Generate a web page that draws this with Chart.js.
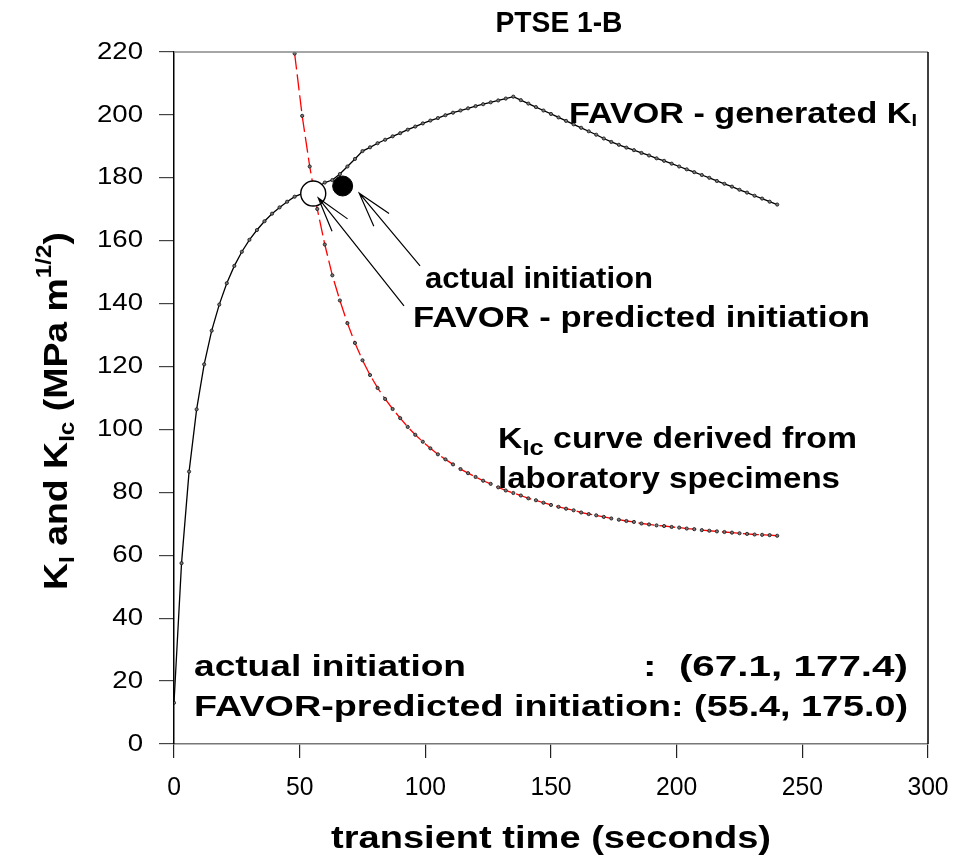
<!DOCTYPE html>
<html>
<head>
<meta charset="utf-8">
<script src="https://cdn.jsdelivr.net/npm/chart.js@4.4.1/dist/chart.umd.min.js"></script>
<style>
  html, body { margin: 0; padding: 0; background: #fff; }
  canvas { display: block; }
</style>
</head>
<body>
<canvas id="chart" width="967" height="856"></canvas>
<script>
// ─── Data ──────────────────────────────────

const kiTime = [
      0,   3,   6,   9,  12,  15,  18,  21,  24,  27,  30,  33,  36,  39,  42,  45,  48,  51,  54,  57,
     60,  63,  66,  69,  72,  75,  78,  81,  84,  87,  90,  93,  96,  99, 102, 105, 108, 111, 114, 117,
    120, 123, 126, 129, 132, 135, 138, 141, 144, 147, 150, 153, 156, 159, 162, 165, 168, 171, 174, 177,
    180, 183, 186, 189, 192, 195, 198, 201, 204, 207, 210, 213, 216, 219, 222, 225, 228, 231, 234, 237, 240
];
const kiValues = [
     13.1,  57.5,  86.6, 106.4, 120.7, 131.4, 139.7, 146.5, 152.0, 156.5, 160.3, 163.4, 166.2, 168.6, 170.6, 172.4, 174.0, 175.0, 175.8, 177.0,
    178.5, 179.3, 181.2, 183.6, 186.0, 188.5, 189.7, 191.0, 192.1, 193.2, 194.2, 195.3, 196.3, 197.3, 198.2, 199.0, 199.9, 200.7, 201.4, 202.1,
    202.8, 203.4, 204.0, 204.6, 205.2, 205.8, 204.7, 203.6, 202.5, 201.4, 200.3, 199.2, 198.1, 197.0, 195.9, 194.8, 193.7, 192.5, 191.4, 190.5,
    189.6, 188.8, 187.9, 187.1, 186.2, 185.4, 184.5, 183.6, 182.7, 181.8, 180.9, 180.0, 179.0, 178.1, 177.2, 176.2, 175.3, 174.3, 173.4, 172.4, 171.5
];

const kicTime = [
     48,  51,  54,  57,  60,  63,  66,  69,  72,  75,  78,  81,  84,  87,  90,  93,  96,  99, 102, 105,
    108, 111, 114, 117, 120, 123, 126, 129, 132, 135, 138, 141, 144, 147, 150, 153, 156, 159, 162, 165,
    168, 171, 174, 177, 180, 183, 186, 189, 192, 195, 198, 201, 204, 207, 210, 213, 216, 219, 222, 225,
    228, 231, 234, 237, 240
];
const kicValues = [
    219.5, 199.7, 183.6, 170.1, 158.8, 149.0, 141.0, 133.8, 127.5, 122.0, 117.3, 113.2, 109.7, 106.5, 103.6, 100.8,  98.3,  96.1,  94.0,  92.1,
     90.5,  88.9,  87.4,  86.1,  84.9,  83.7,  82.7,  81.6,  80.6,  79.8,  79.0,  78.1,  77.5,  76.7,  76.0,  75.4,  74.8,  74.3,  73.6,  73.1,
     72.7,  72.2,  71.7,  71.3,  70.9,  70.6,  70.1,  69.8,  69.5,  69.3,  69.0,  68.8,  68.5,  68.3,  68.0,  67.8,  67.6,  67.4,  67.2,  67.0,
     66.8,  66.6,  66.5,  66.4,  66.2
];

const actualInit    = [67.1, 177.4];
const predictedInit = [55.4, 175.0];

const xTicks = [0, 50, 100, 150, 200, 250, 300];
const yTicks = [0, 20, 40, 60, 80, 100, 120, 140, 160, 180, 200, 220];

// ─── Drawing helpers ───────────────────────

const FONT = '"Liberation Sans", Arial, sans-serif';
const bold = px => `bold ${px}px ${FONT}`;

// text squeezed/stretched horizontally by sx
function drawText(ctx, text, x, y, font, sx, align, baseline) {
    ctx.save();
    ctx.font = font;
    ctx.fillStyle = '#000';
    ctx.textAlign = align || 'left';
    ctx.textBaseline = baseline || 'alphabetic';
    ctx.translate(x, y);
    ctx.scale(sx || 1, 1);
    ctx.fillText(text, 0, 0);
    ctx.restore();
}

// text made of parts [string, font, dy], fitted to a total width
function drawRich(ctx, parts, x, y, width, align) {
    ctx.save();
    ctx.fillStyle = '#000';
    ctx.textBaseline = 'alphabetic';
    ctx.textAlign = 'left';
    let total = 0;
    parts.forEach(p => { ctx.font = p[1]; total += ctx.measureText(p[0]).width; });
    const sx = width ? width / total : 1;
    ctx.translate(x, y);
    ctx.scale(sx, 1);
    let cx = 0;
    if (align === 'center') cx = -total / 2;
    if (align === 'right')  cx = -total;
    parts.forEach(p => {
        ctx.font = p[1];
        ctx.fillText(p[0], cx, p[2] || 0);
        cx += ctx.measureText(p[0]).width;
    });
    ctx.restore();
}

function fitWidth(ctx, text, font, width) {
    ctx.save();
    ctx.font = font;
    const w = ctx.measureText(text).width;
    ctx.restore();
    return width / w;
}

// arrows given in data units: tail -> head
const arrows = [
    { from: [91.5, 139.3], to: [57.4, 173.6] },
    { from: [97.9, 152.0], to: [73.7, 175.1] }
];

const annotations = {
    id: 'annotations',
    afterDatasetsDraw(chart) {
        const { ctx, scales: { x, y } } = chart;
        ctx.save();
        ctx.strokeStyle = '#000';
        ctx.lineWidth = 1.2;
        arrows.forEach(a => {
            const x1 = x.getPixelForValue(a.from[0]), y1 = y.getPixelForValue(a.from[1]);
            const x2 = x.getPixelForValue(a.to[0]),   y2 = y.getPixelForValue(a.to[1]);
            const ang = Math.atan2(y1 - y2, x1 - x2);
            const len = 36, spread = 16 * Math.PI / 180;
            ctx.beginPath();
            ctx.moveTo(x1, y1);
            ctx.lineTo(x2, y2);
            ctx.moveTo(x2 + len * Math.cos(ang - spread), y2 + len * Math.sin(ang - spread));
            ctx.lineTo(x2, y2);
            ctx.lineTo(x2 + len * Math.cos(ang + spread), y2 + len * Math.sin(ang + spread));
            ctx.stroke();
        });
        ctx.restore();
    },
    afterDraw(chart) {
        const { ctx, chartArea: area, scales: { x, y } } = chart;

        // frame: grey top, black right side
        ctx.save();
        ctx.lineWidth = 1.5;
        ctx.strokeStyle = '#888';
        ctx.beginPath();
        ctx.moveTo(area.left, area.top);
        ctx.lineTo(area.right, area.top);
        ctx.stroke();
        ctx.strokeStyle = '#000';
        ctx.beginPath();
        ctx.moveTo(area.right, area.top);
        ctx.lineTo(area.right, area.bottom);
        ctx.stroke();
        ctx.restore();

        // tick labels
        yTicks.forEach(v => drawText(ctx, String(v), area.left - 31, y.getPixelForValue(v), `24px ${FONT}`, 1.15, 'right', 'middle'));
        xTicks.forEach(v => drawText(ctx, String(v), x.getPixelForValue(v), 795, `26px ${FONT}`, 0.95, 'center'));

        // titles
        const cx = (area.left + area.right) / 2;
        drawText(ctx, 'PTSE 1-B', cx + 8, 32, bold(29), fitWidth(ctx, 'PTSE 1-B', bold(29), 127), 'center');
        const xt = 'transient time (seconds)';
        drawText(ctx, xt, cx, 848, bold(31), fitWidth(ctx, xt, bold(31), 440), 'center');

        ctx.save();
        ctx.translate(67, 411);
        ctx.rotate(-Math.PI / 2);
        drawRich(ctx, [
            ['K', bold(34)], ['I', bold(22), 7], [' and K', bold(34)], ['Ic', bold(22), 7],
            [' (MPa m', bold(34)], ['1/2', bold(22), -16], [')', bold(34)]
        ], 0, 0, 358, 'center');
        ctx.restore();

        // curve notes
        drawRich(ctx, [['FAVOR - generated K', bold(29)], ['I', bold(17), 3]], 569, 123, 348);
        drawText(ctx, 'actual initiation', 425, 288, bold(30), fitWidth(ctx, 'actual initiation', bold(30), 228));
        drawText(ctx, 'FAVOR - predicted initiation', 413, 327, bold(30), fitWidth(ctx, 'FAVOR - predicted initiation', bold(30), 457));
        drawRich(ctx, [['K', bold(29)], ['Ic', bold(22), 7], [' curve derived from', bold(29)]], 498, 448, 359);
        drawText(ctx, 'laboratory specimens', 498, 488, bold(29), fitWidth(ctx, 'laboratory specimens', bold(29), 342));

        // initiation summary
        drawText(ctx, 'actual initiation', 194, 676, bold(30), fitWidth(ctx, 'actual initiation', bold(30), 272));
        drawText(ctx, ':  (67.1, 177.4)', 908, 676, bold(30), fitWidth(ctx, ':  (67.1, 177.4)', bold(30), 265), 'right');
        const l2 = 'FAVOR-predicted initiation: (55.4, 175.0)';
        drawText(ctx, l2, 194, 716, bold(30), fitWidth(ctx, l2, bold(30), 714));
    }
};

// ─── Chart ─────────────────────────────────

const toPoints = (xs, ys) => xs.map((t, i) => ({ x: t, y: ys[i] }));

new Chart(document.getElementById('chart').getContext('2d'), {
    type: 'scatter',
    data: {
        datasets: [
            {
                label: 'FAVOR-predicted initiation',
                data: [{ x: predictedInit[0], y: predictedInit[1] }],
                pointRadius: 12.5,
                pointBackgroundColor: '#fff',
                pointBorderColor: '#000',
                pointBorderWidth: 1.4,
                order: 0
            },
            {
                label: 'actual initiation',
                data: [{ x: actualInit[0], y: actualInit[1] }],
                pointRadius: 10,
                pointBackgroundColor: '#000',
                pointBorderColor: '#000',
                order: 1
            },
            {
                label: 'KI',
                data: toPoints(kiTime, kiValues),
                showLine: true,
                borderColor: '#000',
                borderWidth: 1.3,
                pointRadius: 1.6,
                pointBackgroundColor: '#777',
                pointBorderColor: '#111',
                pointBorderWidth: 0.8,
                order: 2
            },
            {
                label: 'KIc',
                data: toPoints(kicTime, kicValues),
                showLine: true,
                borderColor: '#ff0000',
                borderWidth: 1.3,
                borderDash: [16, 5],
                pointRadius: 1.6,
                pointBackgroundColor: '#777',
                pointBorderColor: '#111',
                pointBorderWidth: 0.8,
                order: 3
            }
        ]
    },
    options: {
        responsive: false,
        animation: false,
        devicePixelRatio: 1,
        layout: { padding: { top: 52, right: 39, bottom: 0, left: 0 } },
        plugins: { legend: { display: false }, tooltip: { enabled: false } },
        scales: {
            x: {
                type: 'linear',
                min: 0,
                max: 300,
                afterBuildTicks: s => { s.ticks = xTicks.map(v => ({ value: v })); },
                afterFit: s => { s.height = 112; },
                grid:   { drawOnChartArea: false, drawTicks: true, tickLength: 14, color: '#222', lineWidth: 1.2 },
                border: { color: '#777', width: 1.5 },
                ticks:  { display: false }
            },
            y: {
                type: 'linear',
                min: 0,
                max: 220,
                afterBuildTicks: s => { s.ticks = yTicks.map(v => ({ value: v })); },
                afterFit: s => { s.width = 174; },
                grid:   { drawOnChartArea: false, drawTicks: true, tickLength: 15, color: '#444', lineWidth: 1.2 },
                border: { color: '#000', width: 1.5 },
                ticks:  { display: false }
            }
        }
    },
    plugins: [annotations]
});
</script>
</body>
</html>
